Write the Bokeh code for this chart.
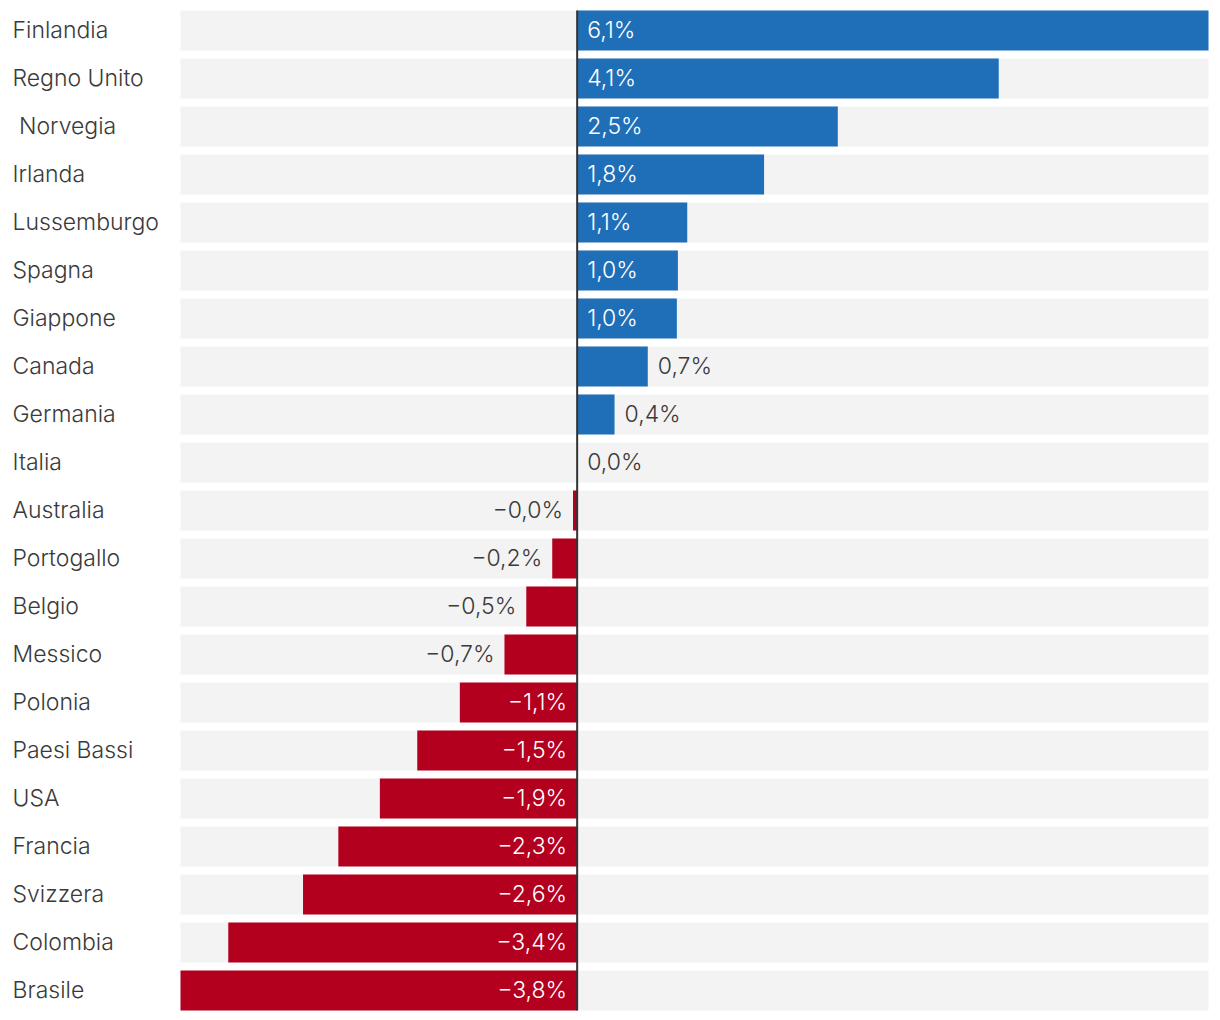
from bokeh.plotting import figure
from bokeh.models import Range1d, ColumnDataSource
from bokeh.core.properties import value
from bokeh.embed import file_html
from bokeh.resources import INLINE

countries = ["Finlandia", "Regno Unito", "\u00a0Norvegia", "Irlanda", "Lussemburgo", "Spagna",
             "Giappone", "Canada", "Germania", "Italia", "Australia", "Portogallo", "Belgio",
             "Messico", "Polonia", "Paesi Bassi", "USA", "Francia", "Svizzera", "Colombia", "Brasile"]
changes = [6.08, 4.06, 2.51, 1.80, 1.06, 0.97, 0.96, 0.68, 0.36, 0.0, -0.04, -0.24, -0.49,
           -0.70, -1.13, -1.54, -1.90, -2.30, -2.64, -3.36, -3.82]

W, H = 1220, 1020
LEFT_PAD, RIGHT_PAD = 180, 12
ROW_PX, BAR_PX, TOP_PAD = 48, 40, 10
FONT = "Inter Light, Inter"
FS = "23px"
BLUE, RED, BG, INK = "#1f6fb8", "#b3001e", "#f3f3f3", "#3a3a3a"

n = len(countries)
lo, hi = min(changes), max(changes)
upp = (hi - lo) / (W - LEFT_PAD - RIGHT_PAD)  # data units per pixel
x_start = lo - LEFT_PAD * upp
x_end = hi + RIGHT_PAD * upp
bar_h = BAR_PX / ROW_PX
y_top = -(TOP_PAD + BAR_PX / 2) / ROW_PX
y_bottom = y_top + H / ROW_PX

ys = list(range(n))
src = ColumnDataSource(dict(
    y=ys, v=changes, country=countries,
    color=[BLUE if v >= 0 else RED for v in changes],
))

p = figure(width=W, height=H, output_backend="svg", toolbar_location=None,
           x_range=Range1d(x_start, x_end), y_range=Range1d(y_bottom, y_top),
           min_border=0, min_border_left=0, min_border_right=0,
           min_border_top=0, min_border_bottom=0)
p.axis.visible = False
p.grid.visible = False
p.outline_line_color = None
p.background_fill_color = "white"
p.border_fill_color = "white"

# background bars
p.hbar(y=ys, left=lo, right=hi, height=bar_h, fill_color=BG, line_color=None)
# value bars
p.hbar(y="y", left=0, right="v", height=bar_h, fill_color="color", line_color=None, source=src)

# zero line
p.segment(x0=[0], x1=[0], y0=[-bar_h / 2], y1=[n - 1 + bar_h / 2], line_color="#333333", line_width=2)

# country labels
p.text(x=[x_start + 12 * upp] * n, y=ys, text=countries, text_font=value(FONT),
       text_font_size=FS, text_color=INK, text_align="left", text_baseline="middle",
       y_offset=-1)

def fmt(v):
    s = f"{abs(v):.1f}".replace(".", ",") + "%"
    return ("\u2212" + s) if v < 0 else s

THRESH = 0.9
groups = {"pin": [], "pout": [], "nin": [], "nout": []}
for i, v in enumerate(changes):
    if v >= 0:
        groups["pin" if v > THRESH else "pout"].append((i, v))
    else:
        groups["nin" if -v > THRESH else "nout"].append((i, v))

def draw(items, inside, positive):
    if not items:
        return
    yy = [i for i, _ in items]
    xx = [0 if inside else v for _, v in items]
    tt = [fmt(v) for _, v in items]
    p.text(x=xx, y=yy, text=tt, text_font=value(FONT), text_font_size=FS,
           text_color="white" if inside else INK,
           text_align="left" if positive else "right", text_baseline="middle",
           x_offset=10 if positive else -10, y_offset=-1)

draw(groups["pin"], True, True)
draw(groups["pout"], False, True)
draw(groups["nin"], True, False)
draw(groups["nout"], False, False)

open("out.html", "w").write(file_html(p, INLINE))
